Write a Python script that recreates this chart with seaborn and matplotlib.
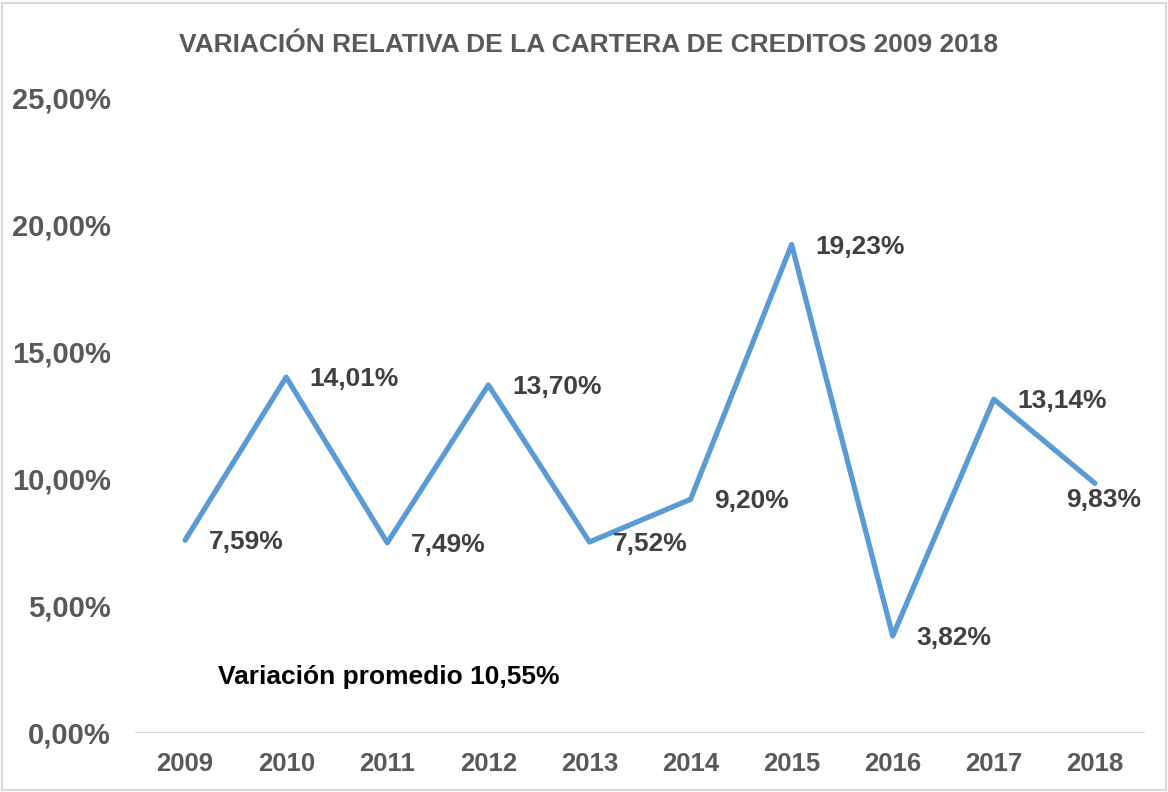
import pandas as pd
import matplotlib
matplotlib.use("Agg")
from matplotlib import pyplot as plt
from matplotlib.patches import Rectangle
import seaborn as sns

years = ["2009", "2010", "2011", "2012", "2013", "2014", "2015", "2016", "2017", "2018"]
variacion = [7.59, 14.01, 7.49, 13.70, 7.52, 9.20, 19.23, 3.82, 13.14, 9.83]
y_ticks = [0, 5, 10, 15, 20, 25]
title = "VARIACIÓN RELATIVA DE LA CARTERA DE CREDITOS 2009 2018"
nota = "Variación promedio 10,55%"

df = pd.DataFrame({"year": years, "var": variacion})

sns.set_style("white")
plt.rcParams["font.family"] = ["Liberation Sans", "DejaVu Sans"]

fig = plt.figure(figsize=(11.68, 7.92), dpi=100)
ax = fig.add_axes([0.1152, 0.0745, 0.8655, 0.8018])

sns.lineplot(data=df, x="year", y="var", ax=ax, color="#5b9bd5",
             linewidth=3.8, sort=False)

ax.set_xlim(-0.5, len(years) - 0.5)
ax.set_ylim(0, 25)
ax.set_yticks(y_ticks)
ax.set_yticklabels([f"{v:.2f}%".replace(".", ",") for v in y_ticks])
ax.set_xlabel("")
ax.set_ylabel("")
for s in ax.spines.values():
    s.set_visible(False)
ax.axhline(0, color="#d9d9d9", linewidth=1.5, zorder=0)
ax.tick_params(axis="both", length=0)
ax.tick_params(axis="y", pad=17)
ax.tick_params(axis="x", pad=14)
for lab in ax.get_xticklabels():
    lab.set_fontweight("bold")
    lab.set_fontsize(18.5)
    lab.set_color("#595959")
for lab in ax.get_yticklabels():
    lab.set_fontweight("bold")
    lab.set_fontsize(21)
    lab.set_color("#595959")

# etiquetas de datos
for i, v in enumerate(variacion):
    txt = f"{v:.2f}%".replace(".", ",")
    if i == len(variacion) - 1:
        ax.annotate(txt, (i, v), xytext=(33, -12), textcoords="offset points",
                    ha="right", va="center", fontsize=19, fontweight="bold",
                    color="#404040")
    else:
        ax.annotate(txt, (i, v), xytext=(17, -1.5), textcoords="offset points",
                    ha="left", va="center", fontsize=19, fontweight="bold",
                    color="#404040")

ax.text(0.0826, 0.088, nota, transform=ax.transAxes, ha="left", va="center",
        fontsize=19, fontweight="bold", color="black")

fig.text(0.504, 0.943, title, ha="center", va="center", fontsize=19,
         fontweight="bold", color="#595959")

fig.patches.append(Rectangle((0.002, 0.002), 0.996, 0.994, transform=fig.transFigure,
                             fill=False, edgecolor="#d9d9d9", linewidth=1.5))

fig.savefig("out.png", dpi=100)
